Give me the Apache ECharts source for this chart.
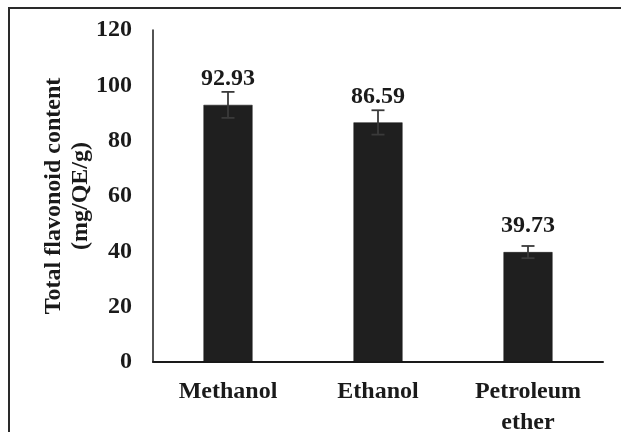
<!DOCTYPE html>
<html>
<head>
<meta charset="utf-8">
<script src="https://cdn.jsdelivr.net/npm/echarts@6/dist/echarts.min.js"></script>
<style>
html,body{margin:0;padding:0;background:#fff;}
#chart{width:621px;height:432px;}
</style>
</head>
<body>
<div id="chart"></div>
<script>
const categories = ['Methanol', 'Ethanol', 'Petroleum\nether'];
const values = [92.93, 86.59, 39.73];
const errors = [4.7, 4.4, 2.2];
const yTicks = [0, 20, 40, 60, 80, 100, 120];

const FONT = '"Liberation Serif", "Times New Roman", serif';
const INK = '#1a1a1a';

const chart = echarts.init(document.getElementById('chart'), null, {renderer: 'canvas'});

const errData = values.map((v, i) => [i, v - errors[i], v + errors[i]]);

chart.setOption({
  backgroundColor: '#ffffff',
  animation: false,
  graphic: [{
    type: 'rect',
    shape: {x: 9, y: 8, width: 700, height: 500},
    style: {fill: 'none', stroke: '#2a2a2a', lineWidth: 2},
    silent: true
  }],
  grid: {left: 153, right: 18, top: 30, bottom: 70, containLabel: false, outerBoundsMode: 'none'},
  xAxis: {
    type: 'category',
    data: categories,
    axisLine: {lineStyle: {color: INK, width: 2}},
    axisTick: {show: false},
    axisLabel: {
      fontFamily: FONT, fontWeight: 'bold', fontSize: 24, color: INK,
      margin: 14, lineHeight: 31, interval: 0
    }
  },
  yAxis: {
    type: 'value',
    min: yTicks[0], max: yTicks[yTicks.length - 1], interval: 20,
    name: 'Total flavonoid content\n(mg/QE/g)',
    nameLocation: 'middle',
    nameGap: 59,
    nameMoveOverlap: false,
    nameRotate: 90,
    nameTextStyle: {fontFamily: FONT, fontWeight: 'bold', fontSize: 24, color: INK, lineHeight: 27},
    axisLine: {show: true, lineStyle: {color: INK, width: 1.5}},
    axisTick: {show: false},
    splitLine: {show: false},
    axisLabel: {fontFamily: FONT, fontWeight: 'bold', fontSize: 24, color: INK, margin: 21}
  },
  series: [{
    type: 'bar',
    data: values,
    barWidth: 49,
    itemStyle: {color: '#1f1f1f', borderColor: '#111', borderWidth: 0.5},
    label: {
      show: true, position: 'top', distance: 14,
      fontFamily: FONT, fontWeight: 'bold', fontSize: 24, color: INK,
      formatter: p => p.value.toFixed(2)
    },
    z: 2
  }, {
    type: 'custom',
    data: errData,
    z: 3,
    renderItem: function (params, api) {
      const x = api.value(0);
      const lo = api.coord([x, api.value(1)]);
      const hi = api.coord([x, api.value(2)]);
      const hw = 6.5;
      const style = {stroke: '#3a3a3a', lineWidth: 1.8};
      return {
        type: 'group',
        children: [
          {type: 'line', shape: {x1: hi[0], y1: hi[1], x2: lo[0], y2: lo[1]}, style: style},
          {type: 'line', shape: {x1: hi[0] - hw, y1: hi[1], x2: hi[0] + hw, y2: hi[1]}, style: style},
          {type: 'line', shape: {x1: lo[0] - hw, y1: lo[1], x2: lo[0] + hw, y2: lo[1]}, style: style}
        ]
      };
    }
  }]
});
</script>
</body>
</html>
